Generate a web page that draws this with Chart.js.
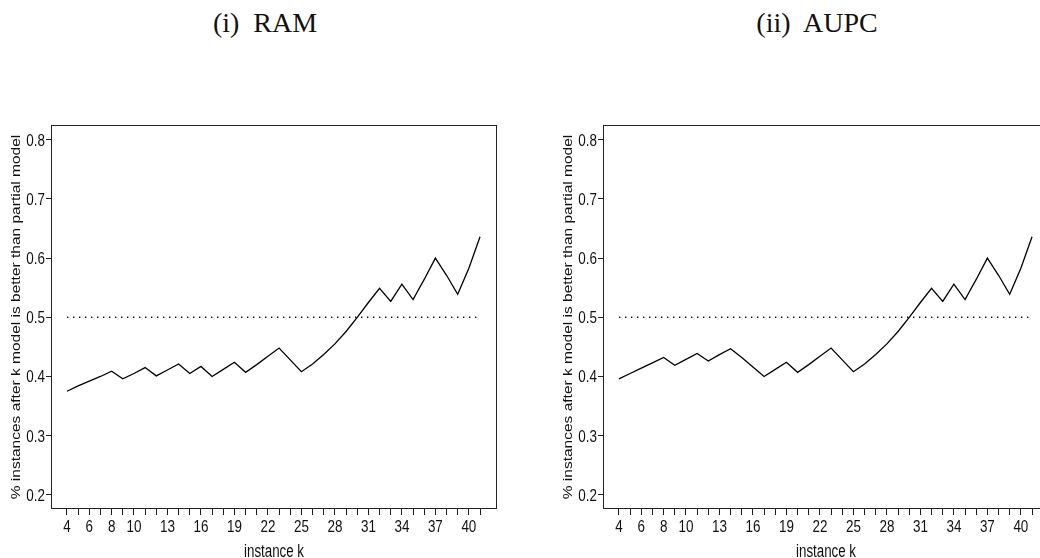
<!DOCTYPE html>
<html>
<head>
<meta charset="utf-8">
<script src="https://cdn.jsdelivr.net/npm/chart.js@4.4.1/dist/chart.umd.min.js"></script>
<style>
  html, body { margin: 0; padding: 0; background: #fff; }
  body { width: 1040px; height: 558px; overflow: hidden; position: relative; }
  .panel { position: absolute; top: 0; width: 552px; height: 558px; }
  .title { position: absolute; top: 9px; width: 200px; text-align: center;
           font: 28px/28px "Liberation Serif", "DejaVu Serif", serif; color: #111; white-space: pre; }
</style>
</head>
<body>
<div class="title" style="left:165px">(i)  RAM</div>
<div class="title" style="left:717px">(ii)  AUPC</div>
<div class="panel" style="left:0"><canvas id="chart-ram"></canvas></div>
<div class="panel" style="left:552px"><canvas id="chart-aupc"></canvas></div>
<script>
// ─── Data ───
const instances = [4, 5, 6, 7, 8, 9, 10, 11, 12, 13, 14, 15, 16, 17, 18, 19, 20, 21, 22,
  23, 24, 25, 26, 27, 28, 29, 30, 31, 32, 33, 34, 35, 36, 37, 38, 39, 40, 41];

const ramValues = [0.375, 0.384, 0.392, 0.400, 0.409, 0.396, 0.405, 0.415, 0.401, 0.411,
  0.421, 0.405, 0.417, 0.400, 0.412, 0.424, 0.407, 0.420, 0.434, 0.448, 0.428, 0.408,
  0.421, 0.437, 0.455, 0.476, 0.500, 0.525, 0.549, 0.527, 0.556, 0.530, 0.564, 0.600,
  0.571, 0.539, 0.583, 0.636];

const aupcValues = [0.396, 0.405, 0.414, 0.423, 0.432, 0.419, 0.429, 0.439, 0.426, 0.437,
  0.447, 0.432, 0.416, 0.400, 0.412, 0.424, 0.407, 0.420, 0.434, 0.448, 0.428, 0.408,
  0.421, 0.437, 0.455, 0.476, 0.500, 0.525, 0.549, 0.527, 0.556, 0.530, 0.564, 0.600,
  0.571, 0.539, 0.583, 0.636];

const refLevel = 0.5;
const xTickLabels = [4, 6, 8, 10, 13, 16, 19, 22, 25, 28, 31, 34, 37, 40];
const yTicks = [0.2, 0.3, 0.4, 0.5, 0.6, 0.7, 0.8];
const yTitle = '% instances after k model is better than partial model';
const xTitle = 'instance k';

const SANS = '"Liberation Sans", Arial, sans-serif';
const SQUEEZE = 0.84;   // the reference text is horizontally condensed

// text drawn narrower than the font, like the squeezed R device output
function squeezedText(ctx, text, x, y, align, sx) {
  ctx.save();
  ctx.translate(x, y);
  ctx.scale(sx, 1);
  ctx.textAlign = align;
  ctx.fillText(text, 0, 0);
  ctx.restore();
}

// box round the plot area (R's box()) plus the condensed axis texts
const axisTextPlugin = {
  id: 'axisText',
  afterDraw(chart) {
    const { ctx, chartArea: a, scales: { x, y } } = chart;
    ctx.save();
    ctx.strokeStyle = '#222';
    ctx.lineWidth = 1;
    ctx.strokeRect(Math.round(a.left) + 0.5, Math.round(a.top) + 0.5,
      Math.round(a.right - a.left) - 1, Math.round(a.bottom - a.top) - 1);

    ctx.fillStyle = '#111';
    ctx.textBaseline = 'alphabetic';
    ctx.font = '16px ' + SANS;
    xTickLabels.forEach(v => {
      squeezedText(ctx, String(v), x.getPixelForValue(v), a.bottom + 22.5, 'center', SQUEEZE);
    });
    yTicks.forEach(v => {
      squeezedText(ctx, v.toFixed(1), a.left - 6, y.getPixelForValue(v) + 6, 'right', SQUEEZE);
    });

    ctx.font = '18px ' + SANS;
    squeezedText(ctx, xTitle, (a.left + a.right) / 2, a.bottom + 48, 'center', 0.74);

    // rotated y title, squeezed across its height
    ctx.font = '15.5px ' + SANS;
    ctx.translate(16.5, (a.top + a.bottom) / 2);
    ctx.scale(0.85, 1);
    ctx.rotate(-Math.PI / 2);
    ctx.textAlign = 'center';
    ctx.textBaseline = 'middle';
    ctx.fillText(yTitle, 0, 0);
    ctx.restore();
  }
};

function makeChart(canvasId, values) {
  const pts = instances.map((k, i) => ({ x: k, y: values[i] }));
  const ref = [instances[0], instances[instances.length - 1]].map(k => ({ x: k, y: refLevel }));

  return new Chart(document.getElementById(canvasId), {
    type: 'line',
    data: {
      datasets: [
        { data: pts, borderColor: '#000', borderWidth: 1.3, pointRadius: 0, tension: 0, fill: false },
        { data: ref, borderColor: '#111', borderWidth: 1.4, borderDash: [1.4, 4.6],
          pointRadius: 0, tension: 0, fill: false }
      ]
    },
    options: {
      animation: false,
      responsive: true,
      maintainAspectRatio: false,
      layout: { padding: { top: 125, right: 55, left: 0, bottom: 0 } },
      plugins: { legend: { display: false }, tooltip: { enabled: false } },
      scales: {
        x: {
          type: 'linear',
          min: 2.57,
          max: 42.52,
          afterBuildTicks: s => { s.ticks = instances.map(v => ({ value: v })); },
          afterFit: s => { s.height = 49; },
          border: { display: false },
          grid: { drawOnChartArea: false, drawTicks: true, tickLength: 6, color: '#222' },
          ticks: { autoSkip: false, maxRotation: 0, callback: () => '' }
        },
        y: {
          min: 0.176,
          max: 0.825,
          afterBuildTicks: s => { s.ticks = yTicks.map(v => ({ value: v })); },
          afterFit: s => { s.width = 51; },
          border: { display: false },
          grid: { drawOnChartArea: false, drawTicks: true, tickLength: 5, color: '#222' },
          ticks: { callback: () => '' }
        }
      }
    },
    plugins: [axisTextPlugin]
  });
}

makeChart('chart-ram', ramValues);
makeChart('chart-aupc', aupcValues);
</script>
</body>
</html>
